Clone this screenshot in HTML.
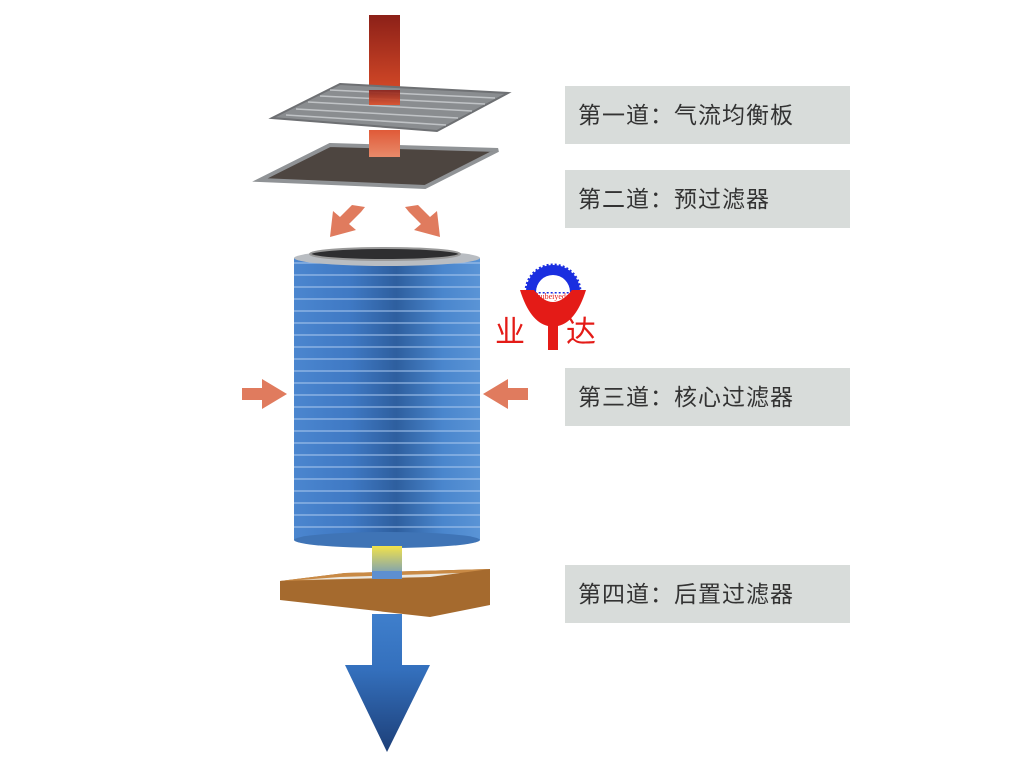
<!DOCTYPE html>
<html><head><meta charset="utf-8"><style>
body{margin:0;background:#fff;width:1024px;height:768px;overflow:hidden;position:relative;font-family:"Liberation Sans","Noto Sans CJK SC",sans-serif}
.lb{position:absolute;left:565px;width:285px;height:58px;background:#d8dcda;color:#333;font-size:23px;line-height:58px;padding-left:13px;box-sizing:border-box;letter-spacing:1px}
</style></head><body>
<svg width="1024" height="768" style="position:absolute;left:0;top:0">
<defs>
<linearGradient id="red" x1="0" y1="0" x2="0" y2="1"><stop offset="0" stop-color="#8c2018"/><stop offset="1" stop-color="#e0502a"/></linearGradient>
<linearGradient id="red2" x1="0" y1="0" x2="0" y2="1"><stop offset="0" stop-color="#e05a38"/><stop offset="1" stop-color="#e88a6a"/></linearGradient>
<linearGradient id="cyl" x1="0" y1="0" x2="1" y2="0"><stop offset="0" stop-color="#4b86cf"/><stop offset="0.3" stop-color="#3f79c4"/><stop offset="0.55" stop-color="#2e5f9f"/><stop offset="0.8" stop-color="#4a86cd"/><stop offset="1" stop-color="#5a94d6"/></linearGradient>
<linearGradient id="yb" x1="0" y1="0" x2="0" y2="1"><stop offset="0" stop-color="#f2e24a"/><stop offset="1" stop-color="#5d8fd0"/></linearGradient>
<linearGradient id="blue" gradientUnits="userSpaceOnUse" x1="0" y1="614" x2="0" y2="752"><stop offset="0" stop-color="#3f7fcc"/><stop offset="0.4" stop-color="#3470bd"/><stop offset="1" stop-color="#1d3f78"/></linearGradient>
<pattern id="stripes" width="10" height="12" patternUnits="userSpaceOnUse"><line x1="0" y1="11" x2="10" y2="11" stroke="#a9c7ee" stroke-width="1.3"/></pattern>
</defs>
<rect x="369" y="15" width="31" height="90" fill="url(#red)"/>
<polygon points="340,84 508,93 437,131 272,118" fill="#8a8d90" stroke="#6e7073" stroke-width="2"/>
<g stroke="#c0c3c6" stroke-width="1.5">
<line x1="330" y1="90" x2="495" y2="98"/><line x1="320" y1="96" x2="485" y2="104"/><line x1="308" y1="102" x2="472" y2="111"/><line x1="296" y1="109" x2="458" y2="118"/><line x1="286" y1="115" x2="446" y2="125"/></g>
<rect x="369" y="90" width="31" height="15" fill="url(#red)" opacity="0.9"/>
<polygon points="330,145 498,150 425,187 260,180" fill="#4d4540" stroke="#909396" stroke-width="4"/>
<rect x="369" y="130" width="31" height="27" fill="url(#red2)"/>
<polygon points="365,207 352,205 340,217 333,211 330,237 356,230 349,224 361,212" fill="#e07b5e"/>
<polygon points="405,207 418,205 430,217 437,211 440,237 414,230 421,224 409,212" fill="#e07b5e"/>
<polygon points="242,388 262,388 262,379 287,394 262,409 262,400 242,400" fill="#e07b5e"/>
<polygon points="528,388 508,388 508,379 483,394 508,409 508,400 528,400" fill="#e07b5e"/>
<rect x="294" y="258" width="186" height="282" fill="url(#cyl)"/>
<rect x="294" y="262" width="186" height="275" fill="url(#stripes)" opacity="0.8"/>
<ellipse cx="387" cy="540" rx="93" ry="8" fill="#3f74b6"/>
<ellipse cx="387" cy="258" rx="93" ry="8" fill="#b9bdc2"/>
<ellipse cx="385" cy="254" rx="75" ry="6" fill="#2e2e30" stroke="#999" stroke-width="2"/>
<rect x="372" y="546" width="30" height="35" fill="url(#yb)"/>
<polygon points="280,581 345,573 490,569 490,605 430,617 280,600" fill="#a56a2e"/>
<polygon points="280,581 345,573 490,569 430,577" fill="#c98a45"/>
<polygon points="340,577 460,573 430,577 300,580" fill="#ece8e0"/>
<rect x="372" y="571" width="30" height="8" fill="#5d8fd0"/>
<rect x="372" y="614" width="30" height="52" fill="url(#blue)"/>
<polygon points="345,665 430,665 387,752" fill="url(#blue)"/>
<path d="M526,292 A27,27 0 0 1 580,292 Z" fill="#1a2ee0" stroke="#1a2ee0" stroke-width="3" stroke-dasharray="2 2"/>
<path d="M536,292 A17,17 0 0 1 570,292 Z" fill="#fff"/>
<path d="M520,290 L534,290 Q553,314 572,290 L586,290 Q576,322 558,326 L558,350 L548,350 L548,326 Q530,322 520,290 Z" fill="#e41b17"/>
<text x="553" y="299" font-size="8" fill="#e41b17" text-anchor="middle" font-family="Liberation Serif,serif">hubeiyeda</text>
<text x="495" y="342" font-size="30" fill="#e41b17" font-family="Liberation Sans,Noto Sans CJK SC,sans-serif">业</text>
<text x="566" y="342" font-size="30" fill="#e41b17" font-family="Liberation Sans,Noto Sans CJK SC,sans-serif">达</text>
</svg>
<div class="lb" style="top:86px">第一道：气流均衡板</div>
<div class="lb" style="top:170px">第二道：预过滤器</div>
<div class="lb" style="top:368px">第三道：核心过滤器</div>
<div class="lb" style="top:565px">第四道：后置过滤器</div>
</body></html>
